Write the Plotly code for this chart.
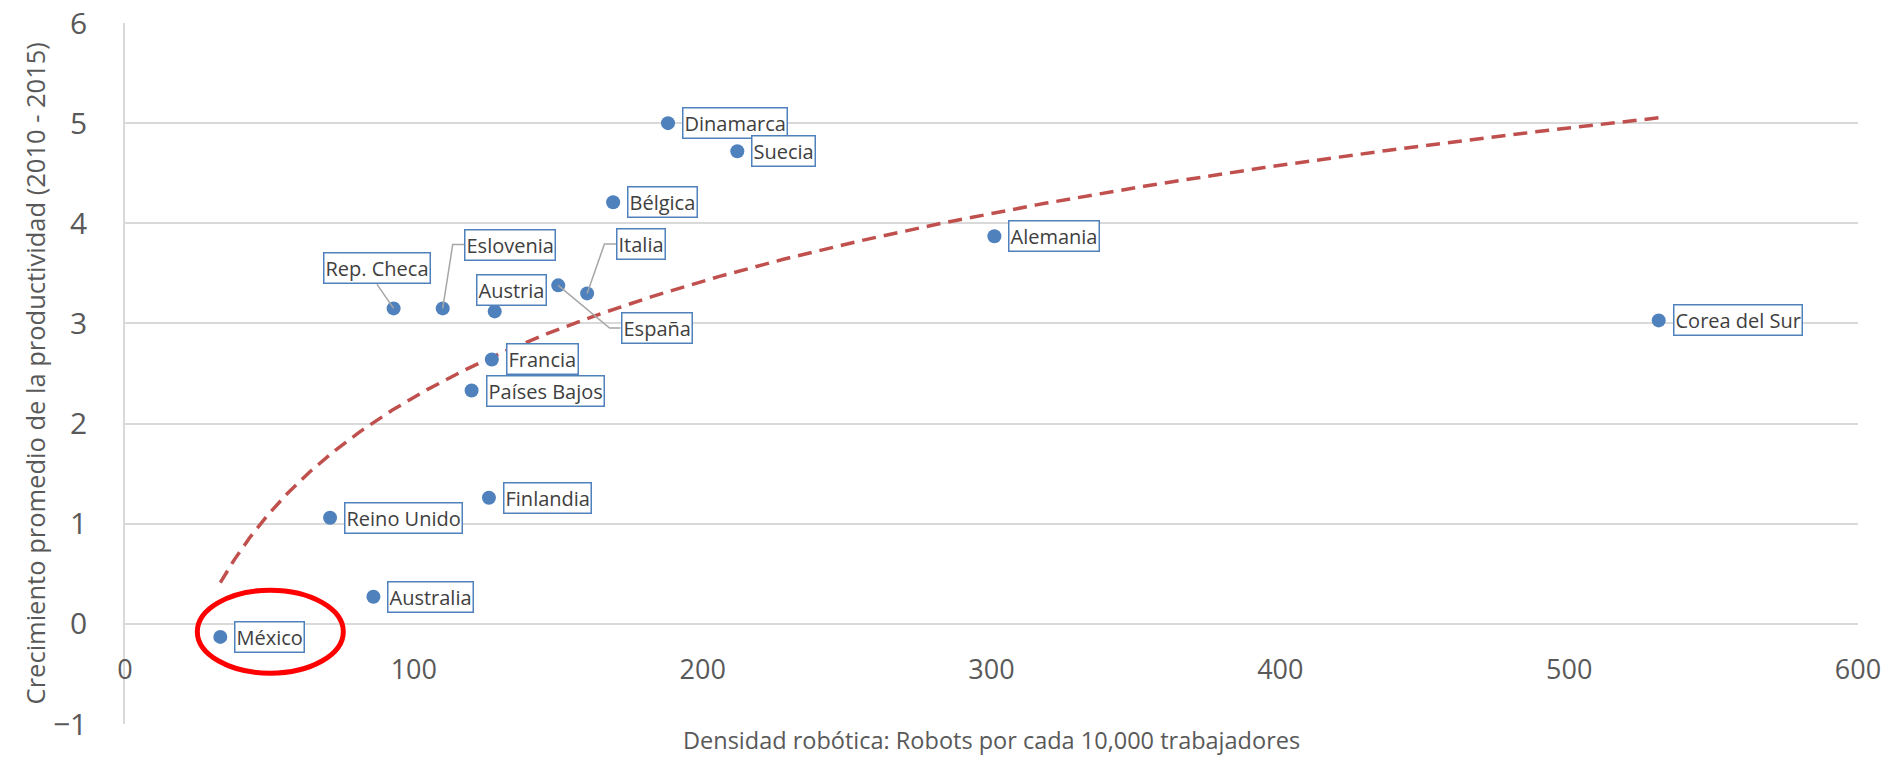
import numpy as np
import plotly.graph_objects as go

# ---------------- data ----------------
countries = ["México", "Reino Unido", "Australia", "Rep. Checa", "Eslovenia",
             "Países Bajos", "Finlandia", "Francia", "Austria", "España",
             "Italia", "Bélgica", "Dinamarca", "Suecia", "Alemania", "Corea del Sur"]
density = [33, 71, 86, 93, 110, 120, 126, 127, 128, 150, 160, 169, 188, 212, 301, 531]
growth = [-0.13, 1.06, 0.27, 3.15, 3.15, 2.33, 1.26, 2.64, 3.12, 3.38, 3.30,
          4.21, 5.00, 4.72, 3.87, 3.03]
x_ticks = [0, 100, 200, 300, 400, 500, 600]
y_ticks = [-1, 0, 1, 2, 3, 4, 5, 6]

x_title = "Densidad robótica: Robots por cada 10,000 trabajadores"
y_title = "Crecimiento promedio de la productividad (2010 - 2015)"

# ---------------- styles ----------------
FONT = "Open Sans"
BLUE = "#4f81bd"
RED_TREND = "#c0504d"
GRID = "#d9d9d9"
TICK_COLOR = "#595959"
LABEL_COLOR = "#404040"

# label placement (pixel offsets from the point); default: to the right
label_style = {
    "Rep. Checa": dict(xanchor="center", xshift=-17, yshift=40,
                       leader=[(0, 0), (-16.6, 24)]),
    "Eslovenia": dict(xanchor="left", xshift=21.4, yshift=63.5,
                      leader=[(0, 0), (10, 64), (21.4, 64)]),
    "Italia": dict(xanchor="left", xshift=29, yshift=49.3,
                   leader=[(0, 0), (17.3, 49.3), (29, 49.3)]),
    "España": dict(xanchor="left", xshift=62.3, yshift=-42.6,
                   leader=[(0, 0), (51.3, -42.6), (62.3, -42.6)]),
    "Austria": dict(xanchor="center", xshift=16.3, yshift=21),
}

# ---------------- logarithmic trendline (fit from the data) ----------------
dens_arr = np.array(density, dtype=float)
grow_arr = np.array(growth, dtype=float)
a, b = np.polyfit(np.log(dens_arr), grow_arr, 1)
x_fit = np.geomspace(dens_arr.min(), dens_arr.max(), 300)
y_fit = a * np.log(x_fit) + b

fig = go.Figure()

fig.add_trace(go.Scatter(
    x=x_fit, y=y_fit, mode="lines",
    line=dict(color=RED_TREND, width=3.5, dash="14px,8px"),
    hoverinfo="skip", showlegend=False,
))

fig.add_trace(go.Scatter(
    x=density, y=growth, mode="markers",
    marker=dict(color=BLUE, size=14),
    text=countries, showlegend=False,
))

annotations = []
shapes = []
for c, xv, yv in zip(countries, density, growth):
    st = label_style.get(c, dict(xanchor="left", xshift=14, yshift=0))
    annotations.append(dict(
        x=xv, y=yv, xref="x", yref="y", text=c, showarrow=False,
        xanchor=st["xanchor"], yanchor="middle",
        xshift=st["xshift"], yshift=st["yshift"],
        font=dict(family=FONT, size=20, color=LABEL_COLOR),
        bgcolor="white", bordercolor=BLUE, borderwidth=1.5, borderpad=1,
    ))
    if "leader" in st:
        pts = st["leader"]
        path = "M " + " L ".join(f"{px},{py}" for px, py in pts)
        shapes.append(dict(
            type="path", xref="x", yref="y",
            xsizemode="pixel", ysizemode="pixel",
            xanchor=xv, yanchor=yv, path=path,
            line=dict(color="#a6a6a6", width=1.5),
        ))

# axis titles
annotations.append(dict(
    text=y_title, xref="paper", yref="paper", x=-0.052, y=0.5,
    xanchor="center", yanchor="middle", textangle=-90, showarrow=False,
    font=dict(family=FONT, size=25.5, color=TICK_COLOR),
))
annotations.append(dict(
    text=x_title, xref="paper", yref="paper", x=0.5, y=-0.023,
    xanchor="center", yanchor="middle", showarrow=False,
    font=dict(family=FONT, size=23.5, color=TICK_COLOR),
))

# red ellipse highlighting México
mx, my = density[0], growth[0]
shapes.append(dict(
    type="circle", xref="x", yref="y",
    xsizemode="pixel", ysizemode="pixel",
    xanchor=mx, yanchor=my,
    x0=50 - 73, x1=50 + 73, y0=5.2 - 41.5, y1=5.2 + 41.5,
    line=dict(color="#ff0000", width=5),
))

fig.update_layout(
    width=1893, height=759,
    margin=dict(l=125, r=35, t=23, b=35),
    paper_bgcolor="white", plot_bgcolor="white",
    font=dict(family=FONT, color=TICK_COLOR),
    showlegend=False,
    annotations=annotations,
    shapes=shapes,
    xaxis=dict(
        range=[0, 600], tickvals=x_ticks, showgrid=False, zeroline=False,
        anchor="free", position=1 / 7, automargin=False,
        showline=True, linecolor=GRID, linewidth=1.5,
        ticks="", ticklabelstandoff=22,
        tickfont=dict(family=FONT, size=27, color=TICK_COLOR),
    ),
    yaxis=dict(
        range=[-1, 6], tickvals=y_ticks, showgrid=True, gridcolor=GRID, gridwidth=1.5,
        zeroline=False, showline=True, linecolor=GRID, linewidth=1.5,
        automargin=False,
        ticks="", ticklabelstandoff=30,
        tickfont=dict(family=FONT, size=30, color=TICK_COLOR),
    ),
)

fig.write_html("out.html")
